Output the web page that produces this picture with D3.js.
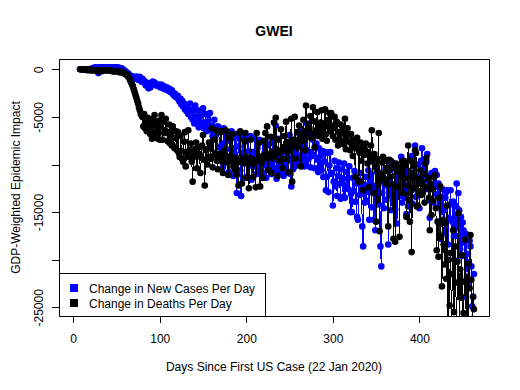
<!DOCTYPE html>
<html>
<head>
<meta charset="utf-8">
<script src="https://cdn.jsdelivr.net/npm/d3@7"></script>
<style>
  body { margin: 0; background: #fff; }
  text { font-family: "Liberation Sans", Arial, sans-serif; }
</style>
</head>
<body>
<div id="main"></div>
<script>
// one value per day starting at firstDay, in thousands
var firstDay = 8;

var casesK = [
  0,0,0,0,0,0,0,0,0,0,
  0,0,0,0,0.1,0.1,0.1,0.2,0.1,0.2,
  0.1,-0.4,0.1,0.2,0.2,0.1,0.2,0.1,0.2,0.2,
  0.1,0.2,0.2,0.1,0.1,0.2,0.2,0.2,0.1,0.2,
  0.1,0.2,0.2,0.1,0.2,0.1,0.1,0.0,0.1,0.0,
  -0.1,-0.1,-0.2,-0.3,-0.4,-0.4,-0.5,-0.6,-0.8,-0.7,
  -0.9,-0.8,-1.0,-0.8,-0.9,-0.8,-0.8,-1.1,-0.9,-0.8,
  -1.0,-1.3,-1.0,-1.3,-1.2,-1.5,-1.7,-1.4,-1.6,-2.0,
  -1.7,-1.9,-1.6,-1.4,-1.3,-1.6,-1.4,-1.5,-1.7,-1.6,
  -1.6,-1.8,-1.7,-1.9,-1.6,-1.9,-2.0,-1.8,-2.1,-2.0,
  -1.9,-2.2,-2.0,-2.3,-2.1,-2.4,-2.2,-2.6,-2.5,-2.8,
  -2.6,-2.9,-3.0,-2.8,-3.2,-3.4,-3.1,-3.7,-3.3,-3.9,
  -3.6,-4.2,-3.8,-4.4,-4.0,-4.7,-4.3,-3.6,-5.0,-4.6,
  -5.3,-4.2,-5.7,-3.8,-5.0,-5.5,-4.3,-6.1,-5.4,-4.9,
  -5.8,-4.4,-4.1,-6.2,-5.6,-4.7,-6.5,-4.8,-5.5,-6.0,
  -4.6,-6.4,-5.9,-7.0,-6.1,-5.3,-7.3,-6.8,-9.0,-6.0,
  -6.1,-8.2,-9.5,-6.4,-7.8,-10.3,-6.2,-8.8,-9.7,-6.6,
  -7.5,-9.2,-10.8,-6.9,-8.4,-6.5,-9.6,-11.2,-7.2,-8.9,
  -6.8,-13.0,-9.4,-8.1,-7.3,-10.6,-13.3,-9.0,-7.0,-8.7,
  -11.4,-7.4,-9.8,-11.3,-7.2,-8.6,-10.1,-7.0,-11.6,-9.3,
  -8.7,-10.2,-7.3,-9.6,-11.0,-8.3,-10.5,-7.4,-9.2,-10.8,
  -9.5,-7.6,-10.9,-8.8,-10.1,-11.4,-8.0,-9.7,-10.4,-7.8,
  -9.9,-11.0,-7.2,-10.3,-9.1,-10.6,-5.9,-11.5,-9.6,-7.3,
  -10.2,-10.6,-9.0,-10.8,-8.4,-11.2,-9.8,-10.1,-8.7,-10.9,
  -9.6,-8.2,-6.9,-11.0,-12.3,-9.4,-10.5,-8.6,-10.2,-9.9,
  -8.8,-10.0,-9.2,-7.5,-6.9,-9.6,-6.5,-9.2,-7.2,-10.2,
  -8.6,-9.9,-5.7,-8.7,-9.4,-6.7,-10.3,-8.7,-9.1,-7.4,
  -9.0,-10.4,-8.0,-7.8,-9.5,-10.8,-8.3,-10.2,-9.1,-10.6,
  -8.6,-11.3,-9.7,-8.7,-12.7,-11.3,-8.8,-12.9,-10.1,-8.7,
  -11.0,-10.9,-14.3,-11.8,-9.6,-12.3,-10.4,-13.3,-11.2,-9.8,
  -12.0,-13.6,-10.5,-11.6,-13.4,-9.9,-13.5,-12.2,-10.8,-11.5,
  -12.6,-10.2,-15.0,-13.1,-15.0,-11.4,-12.8,-10.7,-13.9,-12.0,
  -15.5,-15.8,-11.6,-13.2,-10.9,-12.5,-16.5,-18.6,-12.1,-14.0,
  -11.3,-13.8,-12.4,-10.6,-15.8,-12.9,-11.0,-14.5,-9.7,-15.8,
  -12.3,-16.9,-13.4,-10.8,-12.6,-14.2,-11.5,-18.6,-20.7,-13.0,
  -11.8,-14.6,-12.2,-10.4,-13.7,-11.6,-18.4,-12.9,-10.1,-14.8,
  -12.5,-9.8,-13.6,-11.2,-14.7,-10.5,-16.2,-12.4,-10.9,-13.3,
  -11.7,-9.2,-14.0,-12.1,-10.3,-13.5,-11.0,-15.2,-12.6,-14.4,
  -10.7,-13.0,-11.9,-9.1,-14.1,-12.3,-10.2,-8.0,-13.4,-11.2,
  -12.8,-10.0,-14.6,-11.5,-9.6,-8.3,-13.0,-11.8,-10.4,-12.5,
  -9.7,-8.9,-12.6,-11.2,-15.6,-13.8,-10.9,-12.4,-14.0,-12.2,
  -10.7,-13.1,-11.1,-14.5,-12.0,-16.3,-17.8,-13.4,-15.0,-12.6,
  -14.8,-17.2,-13.5,-12.9,-12.7,-18.4,-15.6,-14.2,-12.7,-19.3,
  -16.0,-13.9,-17.5,-14.4,-20.1,-12.0,-16.7,-13.0,-14.8,-18.9,
  -15.5,-19.6,-16.1,-16.9,-18.2,-23.9,-17.3,-21.0,-19.4,-22.8,
  -18.0,-18.6,-20.7,-24.9,-23.9,-21.5
];

var deathsK = [
  0,0,0,0,0,0,0,0,-0.1,0,
  -0.1,0,-0.1,-0.1,-0.1,-0.1,-0.1,-0.1,-0.1,-0.1,
  -0.1,-0.2,-0.2,-0.2,-0.1,-0.2,-0.1,-0.1,-0.1,-0.1,
  -0.1,-0.1,-0.1,-0.1,-0.1,-0.1,-0.1,-0.2,-0.2,-0.2,
  -0.2,-0.2,-0.2,-0.2,-0.2,-0.3,-0.2,-0.3,-0.3,-0.3,
  -0.4,-0.4,-0.5,-0.5,-0.6,-0.7,-0.8,-1.0,-1.2,-1.4,
  -1.6,-1.8,-2.1,-2.4,-2.7,-3.0,-3.3,-3.6,-4.0,-4.3,
  -4.7,-4.8,-5.0,-6.0,-4.7,-6.2,-5.6,-6.5,-5.1,-6.0,
  -5.6,-6.8,-5.7,-7.3,-5.2,-6.9,-4.8,-5.8,-7.1,-6.4,
  -7.3,-5.4,-7.4,-6.0,-4.8,-7.4,-5.5,-6.7,-6.4,-5.2,
  -6.7,-7.5,-7.6,-5.8,-7.8,-6.5,-8.0,-6.0,-8.1,-8.3,
  -7.2,-6.5,-8.5,-6.6,-8.8,-9.2,-7.0,-8.6,-9.4,-9.7,
  -7.6,-6.6,-10.2,-8.7,-9.0,-6.4,-9.2,-8.5,-7.8,-9.7,
  -11.8,-9.2,-8.4,-8.8,-7.7,-10.4,-9.0,-8.2,-8.9,-10.9,
  -9.3,-8.0,-6.9,-9.5,-12.2,-8.4,-8.5,-10.0,-9.2,-7.7,
  -8.1,-9.4,-6.2,-10.3,-7.4,-9.0,-8.8,-6.4,-9.6,-10.5,
  -8.9,-9.3,-6.6,-6.5,-9.7,-10.9,-8.6,-9.1,-6.4,-6.5,
  -9.8,-11.1,-9.4,-7.2,-9.1,-9.6,-6.8,-10.2,-9.3,-10.6,
  -9.5,-11.1,-9.8,-12.2,-6.7,-6.5,-9.6,-12.0,-9.4,-9.9,
  -7.6,-6.7,-9.8,-11.4,-9.7,-12.5,-9.3,-7.4,-9.9,-9.6,
  -11.3,-9.5,-9.9,-12.4,-6.7,-9.5,-7.8,-9.6,-12.3,-9.2,
  -9.7,-11.4,-7.5,-9.0,-6.7,-9.3,-6.0,-10.6,-8.9,-9.1,
  -7.1,-10.9,-9.3,-8.7,-5.6,-9.0,-5.1,-8.4,-11.2,-7.4,
  -8.8,-9.6,-6.3,-8.6,-10.4,-8.2,-7.0,-9.4,-5.5,-7.8,
  -8.7,-10.8,-7.6,-8.3,-5.2,-11.8,-7.4,-8.0,-5.0,-9.4,
  -7.8,-6.6,-8.2,-5.9,-7.3,-10.2,-7.5,-6.8,-5.3,-7.4,
  -8.5,-3.8,-6.4,-7.1,-5.8,-6.2,-4.9,-7.2,-5.4,-4.0,
  -6.7,-8.2,-5.5,-6.4,-4.5,-7.0,-5.9,-6.8,-5.6,-4.3,
  -7.3,-6.2,-5.7,-4.2,-6.8,-7.5,-6.0,-5.3,-4.6,-6.5,
  -4.6,-5.9,-7.0,-6.2,-5.0,-7.4,-5.5,-5.6,-8.0,-6.6,
  -6.9,-5.8,-7.5,-6.0,-6.6,-7.9,-5.2,-8.4,-7.0,-6.2,
  -6.8,-7.6,-8.5,-6.8,-7.9,-9.1,-7.4,-8.2,-11.3,-8.0,
  -7.2,-8.4,-11.8,-8.8,-7.7,-9.6,-8.3,-12.7,-9.0,-8.4,
  -7.8,-8.7,-9.9,-8.7,-12.4,-9.2,-8.0,-6.4,-9.5,-13.0,
  -8.9,-10.3,-16.0,-9.4,-13.7,-6.7,-17.0,-10.9,-11.0,-9.8,
  -9.2,-11.5,-9.5,-12.0,-9.6,-10.4,-16.5,-9.5,-11.3,-9.6,
  -10.2,-12.1,-17.8,-10.4,-18.1,-9.9,-10.6,-12.3,-10.8,-17.6,
  -10.3,-11.2,-9.7,-13.0,-9.6,-11.5,-10.1,-15.5,-12.2,-8.0,
  -13.7,-16.0,-9.6,-19.2,-11.3,-10.1,-12.5,-8.5,-8.8,-14.4,
  -14.3,-11.5,-12.0,-10.6,-13.2,-11.8,-12.7,-11.0,-14.0,-9.9,
  -9.3,-12.4,-11.4,-13.5,-16.9,-12.0,-15.3,-12.6,-13.8,-11.3,
  -11.1,-14.6,-19.0,-16.0,-19.7,-13.5,-12.3,-17.6,-22.8,-15.8,
  -18.4,-20.5,-16.2,-22.0,-14.3,-26.5,-20.0,-24.8,-19.3,-27.0,
  -21.5,-16.9,-25.5,-18.6,-22.4,-27.5,-20.2,-15.1,-26.8,-21.0,
  -24.0,-19.5,-27.2,-25.6,-22.3,-17.9,-26.5,-21.8,-28.0,-20.4,
  -23.0,-17.4,-22.1,-26.2,-23.9,-25.2
];

var xTicks = [0, 100, 200, 300, 400];
var yTicks = [0, -5000, -10000, -15000, -20000, -25000];
var yTickLabels = [0, -5000, -15000, -25000];   // R drops the crowded ones
var legendNames = ["Change in New Cases Per Day", "Change in Deaths Per Day"];
var legendColors = ["#0000ff", "#000000"];

var W = 520, H = 390;
var plot = {left: 59, right: 489, top: 59, bottom: 316};

var svg = d3.select("#main")
  .append("svg")
    .attr("width", W)
    .attr("height", H)
    .style("display", "block");

svg.append("rect").attr("width", W).attr("height", H).attr("fill", "#fff");

// R style limits: data range padded by 4%
var x = d3.scaleLinear()
  .domain([-16.4, 480.4])
  .range([plot.left, plot.right]);

var y = d3.scaleLinear()
  .domain([-25910, 1080])
  .range([plot.bottom, plot.top]);

function toPoints(arr) {
  return arr.map(function(v, i) { return {day: firstDay + i, value: v * 1000}; });
}
var series = [
  {name: legendNames[0], color: legendColors[0], values: toPoints(casesK)},
  {name: legendNames[1], color: legendColors[1], values: toPoints(deathsK)}
];

svg.append("clipPath").attr("id", "plotclip")
  .append("rect")
    .attr("x", plot.left).attr("y", plot.top)
    .attr("width", plot.right - plot.left)
    .attr("height", plot.bottom - plot.top);

var line = d3.line()
  .x(function(d) { return x(d.day); })
  .y(function(d) { return y(d.value); });

var marks = svg.append("g").attr("clip-path", "url(#plotclip)");

// type = "o": line first, then points on top, cases then deaths
series.forEach(function(s) {
  marks.append("path")
    .datum(s.values)
    .attr("d", line)
    .attr("fill", "none")
    .attr("stroke", s.color)
    .attr("stroke-width", 1)
    .attr("shape-rendering", "crispEdges");

  marks.append("g").selectAll("circle")
    .data(s.values)
    .enter().append("circle")
      .attr("cx", function(d) { return x(d.day); })
      .attr("cy", function(d) { return y(d.value); })
      .attr("r", 3.3)
      .attr("fill", s.color);
});

// axes
var xAxis = svg.append("g")
  .attr("transform", "translate(0," + plot.bottom + ")")
  .call(d3.axisBottom(x).tickValues(xTicks).tickSize(7).tickSizeOuter(0));
xAxis.select(".domain").remove();
xAxis.selectAll("line").attr("stroke", "#000").attr("shape-rendering", "crispEdges");
xAxis.selectAll("text")
  .attr("y", 27).attr("dy", 0)
  .attr("fill", "#000")
  .style("font-size", "12px")
  .style("font-family", '"Liberation Sans", Arial, sans-serif');

var yAxis = svg.append("g")
  .attr("transform", "translate(" + plot.left + ",0)")
  .call(d3.axisLeft(y).tickValues(yTicks).tickSize(7).tickSizeOuter(0)
    .tickFormat(function(d) { return yTickLabels.indexOf(d) >= 0 ? String(d) : ""; }));
yAxis.select(".domain").remove();
yAxis.selectAll("line").attr("stroke", "#000").attr("shape-rendering", "crispEdges");
yAxis.selectAll("text")
  .attr("x", null).attr("dy", null)
  .attr("text-anchor", "middle")
  .attr("transform", "translate(-16,0) rotate(-90)")
  .attr("fill", "#000")
  .style("font-size", "12px")
  .style("font-family", '"Liberation Sans", Arial, sans-serif');

// plot box
svg.append("rect")
  .attr("x", plot.left).attr("y", plot.top)
  .attr("width", plot.right - plot.left)
  .attr("height", plot.bottom - plot.top)
  .attr("fill", "none")
  .attr("stroke", "#000")
  .attr("stroke-width", 1)
  .attr("shape-rendering", "crispEdges");

// titles
svg.append("text")
  .attr("x", (plot.left + plot.right) / 2)
  .attr("y", 36)
  .attr("text-anchor", "middle")
  .style("font-size", "14px")
  .style("font-weight", "bold")
  .text("GWEI");

svg.append("text")
  .attr("x", (plot.left + plot.right) / 2)
  .attr("y", 371)
  .attr("text-anchor", "middle")
  .style("font-size", "12px")
  .text("Days Since First US Case (22 Jan 2020)");

svg.append("text")
  .attr("transform", "translate(20," + (plot.top + plot.bottom) / 2 + ") rotate(-90)")
  .attr("text-anchor", "middle")
  .style("font-size", "12px")
  .text("GDP-Weighted Epidemic Impact");

// legend, bottom left
var legend = svg.append("g");
legend.append("rect")
  .attr("x", plot.left).attr("y", 273)
  .attr("width", 206).attr("height", plot.bottom - 273)
  .attr("fill", "#fff")
  .attr("stroke", "#000")
  .attr("shape-rendering", "crispEdges");

legendNames.forEach(function(name, i) {
  legend.append("rect")
    .attr("x", 70).attr("y", 284 + i * 15)
    .attr("width", 8).attr("height", 8)
    .attr("fill", legendColors[i]);
  legend.append("text")
    .attr("x", 89).attr("y", 292.5 + i * 15)
    .style("font-size", "12px")
    .text(name);
});
</script>
</body>
</html>
